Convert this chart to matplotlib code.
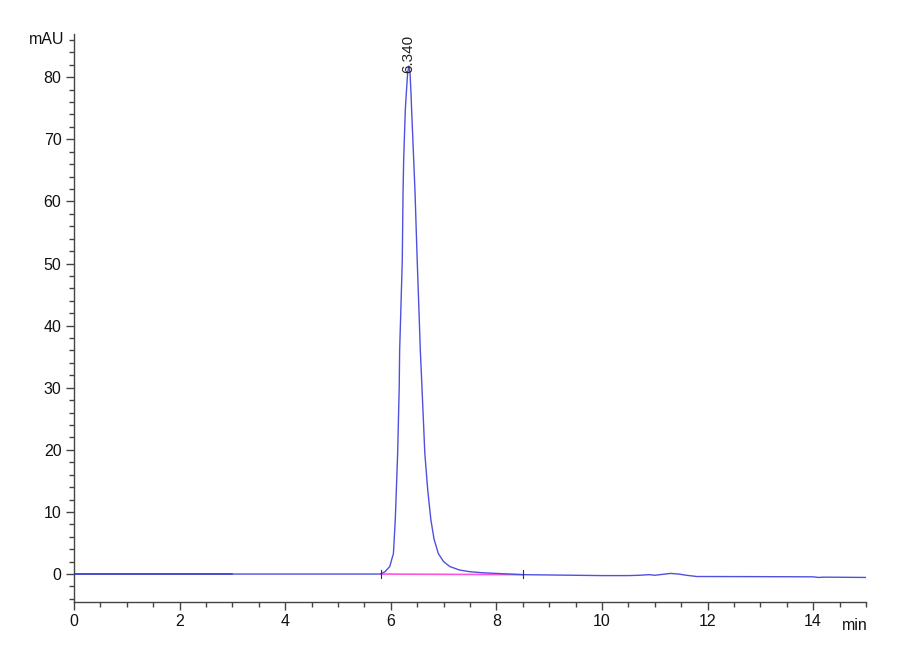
import matplotlib
matplotlib.use("Agg")
import matplotlib.pyplot as plt
from matplotlib.ticker import MultipleLocator

# Chromatogram trace (time in min, signal in mAU)
time_min = [0.0, 1.0, 2.0, 3.0, 4.0, 5.0, 5.8, 5.89, 5.98, 6.05, 6.085, 6.13,
            6.16, 6.168, 6.185, 6.218, 6.232, 6.244, 6.275, 6.294, 6.32, 6.345,
            6.365, 6.383, 6.395, 6.434, 6.46, 6.50, 6.54, 6.559, 6.59, 6.645,
            6.70, 6.76, 6.82, 6.90, 7.0, 7.12, 7.3, 7.50, 7.75, 8.0, 8.25, 8.5,
            9.0, 9.5, 10.0, 10.5, 10.7, 10.9, 11.0, 11.15, 11.3, 11.45, 11.6,
            11.8, 12.0, 13.0, 14.0, 14.1, 14.2, 15.0]
signal_mau = [0.0, 0.0, 0.0, 0.0, 0.0, 0.0, 0.0, 0.37, 1.2, 3.3, 8.7, 19.4,
              30.2, 36.1, 40.9, 50.6, 61.3, 66.7, 74.7, 77.4, 80.8, 81.8,
              80.6, 77.4, 74.7, 66.7, 61.3, 50.6, 40.9, 36.1, 30.2, 19.4,
              13.5, 8.7, 5.6, 3.3, 2.0, 1.2, 0.65, 0.37, 0.2, 0.1, 0.0, -0.1,
              -0.15, -0.2, -0.25, -0.25, -0.2, -0.1, -0.2, -0.05, 0.1, 0.0, -0.2,
              -0.4, -0.4, -0.42, -0.45, -0.55, -0.5, -0.55]

# Integration baseline (pink) from start to end of the peak
base_time = [5.81, 8.5]
base_mau = [0.0, -0.1]

peak_rt = 6.340
peak_height = 81.8
peak_label = "6.340"

x_major = [0, 2, 4, 6, 8, 10, 12, 14]
y_major = [0, 10, 20, 30, 40, 50, 60, 70, 80]

plt.rcParams['font.family'] = ['Liberation Sans Narrow', 'Liberation Sans', 'DejaVu Sans']

fig = plt.figure(figsize=(9, 6.6), dpi=100)
ax = fig.add_axes([0.0822, 0.0879, 0.880, 0.861])

axis_col = '#444444'

ax.plot(base_time, base_mau, color='#ff55dd', lw=1.2, zorder=2)
n3 = time_min.index(3.0) + 1
ax.plot(time_min[:n3], signal_mau[:n3], color='#2a2ac8', lw=1.2, zorder=3)
ax.plot(time_min[n3 - 1:], signal_mau[n3 - 1:], color='#5050e0', lw=1.0, zorder=3)

# integration markers
for bt in base_time:
    ax.plot([bt, bt], [-0.7, 0.7], color='#333333', lw=0.8, zorder=4)

ax.text(peak_rt, peak_height - 1.2, peak_label, rotation=90, ha='center', va='bottom',
        fontsize=11, color='#222222', family=['Liberation Sans', 'DejaVu Sans'])

ax.set_xlim(0, 15)
ax.set_ylim(-4.5, 87)

for s in ['top', 'right']:
    ax.spines[s].set_visible(False)
for s in ['left', 'bottom']:
    ax.spines[s].set_color(axis_col)
    ax.spines[s].set_linewidth(1.0)

ax.set_xticks(x_major)
ax.set_xticklabels([str(v) for v in x_major])
ax.xaxis.set_minor_locator(MultipleLocator(0.5))
ax.set_yticks(y_major)
ax.set_yticklabels([str(v) for v in y_major])
ax.yaxis.set_minor_locator(MultipleLocator(2))

ax.tick_params(axis='both', which='major', direction='out', length=6, width=1.0,
               color=axis_col, labelsize=11.5, labelcolor='#111111', pad=3)
ax.tick_params(axis='both', which='minor', direction='out', length=3.5, width=1.0,
               color=axis_col)

ax.text(-0.012, 86, 'mAU', transform=ax.get_yaxis_transform(), ha='right', va='center',
        fontsize=11.5, color='#111111')
ax.text(14.78, -0.028, 'min', transform=ax.get_xaxis_transform(), ha='center', va='top',
        fontsize=11.5, color='#111111')

fig.savefig('out.png', dpi=100, facecolor='white')
